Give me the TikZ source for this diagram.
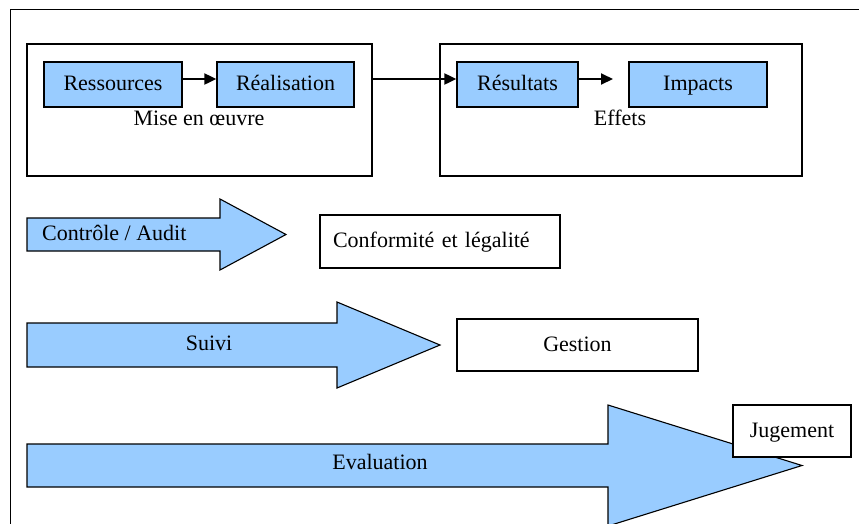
\documentclass[tikz,border=0pt]{standalone}
\usepackage{fontspec}
\setmainfont{Liberation Serif}
\usetikzlibrary{arrows.meta}
\definecolor{paleblue}{HTML}{99CCFF}
\tikzset{
  every node/.style={font=\fontsize{22}{26}\selectfont, inner sep=0pt},
  bluebox/.style={draw=black, line width=1.3pt, fill=paleblue, rectangle,
    text height=16pt, text depth=4pt},
  whitebox/.style={draw=black, line width=1.2pt, fill=white, rectangle,
    text height=16pt, text depth=4pt},
  groupbox/.style={draw=black, line width=1.2pt, rectangle},
  blockarrow/.style={draw=black, line width=1.1pt, fill=paleblue, line join=miter},
  flow/.style={line width=2pt, -{Triangle[length=12pt,width=11pt]}},
  frame/.style={draw=black, line width=1pt},
}
\begin{document}
\begin{tikzpicture}[x=1pt, y=-1pt]
\useasboundingbox (0,0) rectangle (859,523);
\clip (0,0) rectangle (859,523);
\fill[white] (0,0) rectangle (859,523);

% outer frame
\draw[frame] (870,9.5) -- (10,9.5) -- (10,540);

% group boxes
\node[groupbox, minimum width=345pt, minimum height=132pt] (mise) at (199.5,110) {};
\node[groupbox, minimum width=362pt, minimum height=132pt] (effets) at (621,110) {};
\node[text height=16pt, text depth=4pt] (misetxt) at (199,119) {Mise en œuvre};
\node[text height=16pt, text depth=4pt] (effetstxt) at (620,119) {Effets};

% steps
\node[bluebox, minimum width=138pt, minimum height=45pt] (ress) at (113,84.5) {Ressources};
\node[bluebox, minimum width=137pt, minimum height=45pt] (real) at (285.5,84.5) {Réalisation};
\node[bluebox, minimum width=121pt, minimum height=45pt] (resu) at (517.5,84.5) {Résultats};
\node[bluebox, minimum width=138pt, minimum height=45pt] (impa) at (698,84.5) {Impacts};
\coordinate (toimpa) at (613,79);

\draw[flow] ([yshift=5.5pt]ress.east) -- ([yshift=5.5pt]real.west);
\draw[flow] (mise.east |- 0,79) -- ([yshift=5.5pt]resu.west);
\draw[flow] ([yshift=5.5pt]resu.east) -- (toimpa);

% Controle / Audit
\path[blockarrow] (27,218) -- (220,218) -- (220,199) -- (286,234.5)
  -- (220,270) -- (220,251) -- (27,251) -- cycle;
\node[anchor=west, text height=16pt, text depth=4pt] (ctrl) at (42,234) {Contrôle / Audit};
\node[whitebox, minimum width=240pt, minimum height=53pt, text width=214pt, align=left]
  (conf) at (440,241.5) {Conformité et légalité};

% Suivi
\path[blockarrow] (27,323) -- (337,323) -- (337,302) -- (440,345)
  -- (337,388) -- (337,367) -- (27,367) -- cycle;
\node[text height=16pt, text depth=4pt] (suivi) at (209,344) {Suivi};
\node[whitebox, minimum width=241pt, minimum height=52pt] (gest) at (577.5,345) {Gestion};

% Evaluation
\path[blockarrow] (27,444) -- (608,444) -- (608,405) -- (802,465.5)
  -- (608,526) -- (608,487) -- (27,487) -- cycle;
\node[text height=16pt, text depth=4pt] (eval) at (380,463) {Evaluation};
\node[whitebox, minimum width=118pt, minimum height=52pt] (jug) at (792,431) {Jugement};
\end{tikzpicture}
\end{document}
